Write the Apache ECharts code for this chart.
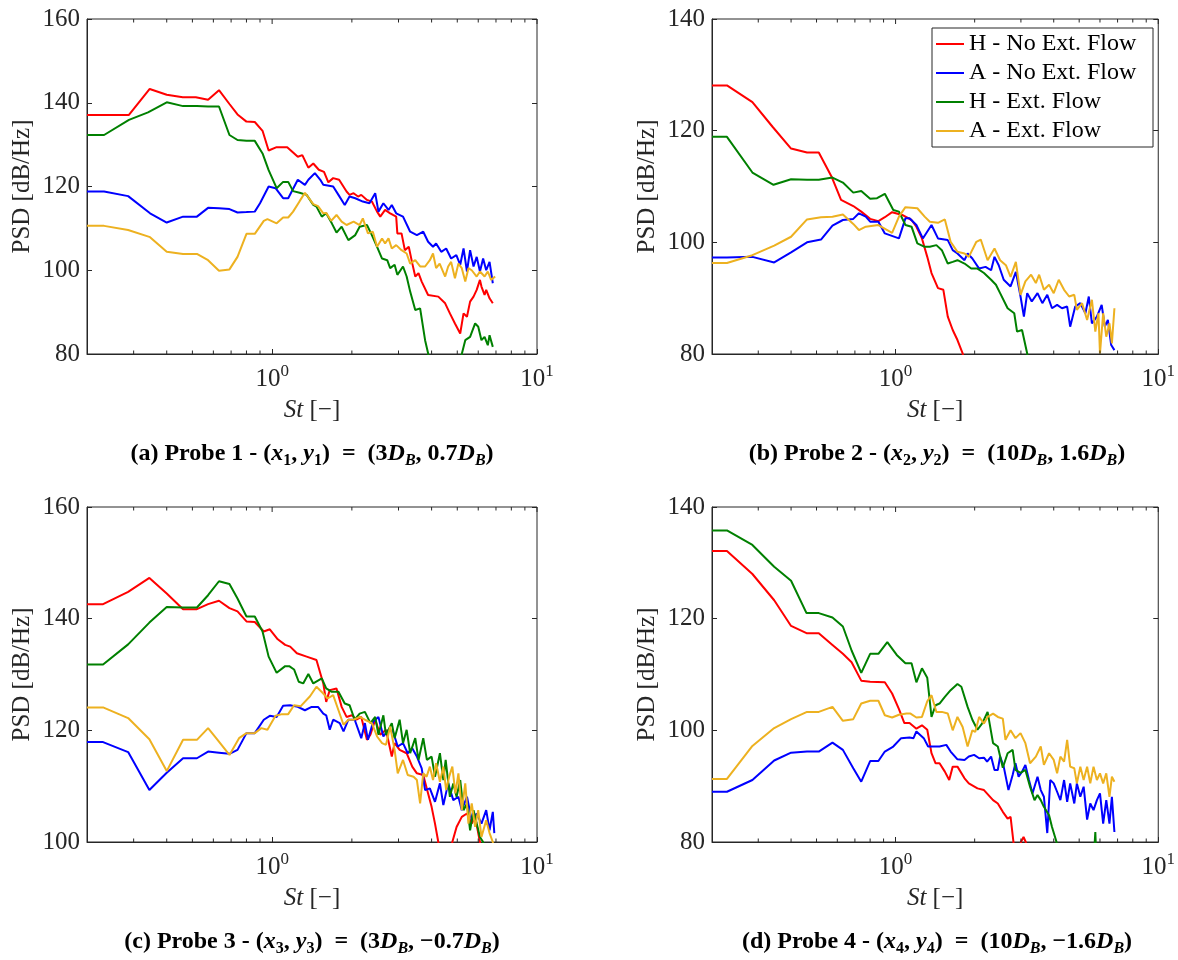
<!DOCTYPE html>
<html><head><meta charset="utf-8">
<script src="https://cdn.jsdelivr.net/npm/echarts@6/dist/echarts.min.js"></script>
<style>html,body{margin:0;padding:0;background:#fff}#c{width:1178px;height:960px}</style>
</head><body><div id="c"></div>
<script>
// ---------- DATA ----------
const seriesNames = ['H - No Ext. Flow', 'A - No Ext. Flow', 'H - Ext. Flow', 'A - Ext. Flow'];
const seriesColors = ['#ff0000', '#0000ff', '#008000', '#edb120'];
const xRange = [0.2, 10];
const yRanges = [[80, 160], [80, 140], [100, 160], [80, 140]];
const yTickStep = 20;
const xMinorTicks = [0.3, 0.4, 0.5, 0.6, 0.7, 0.8, 0.9, 2, 3, 4, 5, 6, 7, 8, 9];
const xMajorTicks = [1, 10];
const yAxisTitle = 'PSD [dB/Hz]';
const xAxisTitle = '{i|St} [−]';
const captions = [
  '{n|(a) Probe 1 - (}{i|x}{s|1}{n|, }{i|y}{s|1}{n|)  =  (3}{i|D}{si|B}{n|, 0.7}{i|D}{si|B}{n|)}',
  '{n|(b) Probe 2 - (}{i|x}{s|2}{n|, }{i|y}{s|2}{n|)  =  (10}{i|D}{si|B}{n|, 1.6}{i|D}{si|B}{n|)}',
  '{n|(c) Probe 3 - (}{i|x}{s|3}{n|, }{i|y}{s|3}{n|)  =  (3}{i|D}{si|B}{n|, −0.7}{i|D}{si|B}{n|)}',
  '{n|(d) Probe 4 - (}{i|x}{s|4}{n|, }{i|y}{s|4}{n|)  =  (10}{i|D}{si|B}{n|, −1.6}{i|D}{si|B}{n|)}'
];

// Probe 1 [St, PSD]
const p1_H_noExt = [[0.2,137.1],[0.23,137.1],[0.288,137.1],[0.345,143.3],[0.40,141.9],[0.46,141.3],[0.515,141.3],[0.573,140.7],[0.63,143.0],[0.69,139.7],[0.74,137.2],[0.80,135.5],[0.86,135.4],[0.92,133.3],[0.97,128.6],[1.04,129.4],[1.14,129.4],[1.25,127.1],[1.30,127.5],[1.37,124.5],[1.43,125.5],[1.50,124.0],[1.57,123.5],[1.63,121.0],[1.70,122.0],[1.79,121.6],[1.91,118.8],[1.96,118.0],[2.03,118.4],[2.11,117.6],[2.17,118.0],[2.28,116.8],[2.38,116.4],[2.49,114.0],[2.56,112.8],[2.67,114.4],[2.79,113.6],[2.86,113.2],[2.94,112.8],[2.97,108.8],[3.08,108.8],[3.17,104.8],[3.28,105.6],[3.38,101.7],[3.47,98.5],[3.57,99.3],[3.67,97.3],[3.88,94.1],[4.24,93.7],[4.50,92.1],[4.69,89.7],[4.90,87.3],[5.13,84.9],[5.28,89.7],[5.44,88.9],[5.59,92.5],[5.76,93.7],[5.92,95.3],[6.09,97.7],[6.17,96.1],[6.34,94.1],[6.43,95.3],[6.62,93.3],[6.81,92.1]];
const p1_A_noExt = [[0.2,118.8],[0.232,118.8],[0.286,117.7],[0.346,113.6],[0.40,111.4],[0.461,112.8],[0.52,112.8],[0.573,114.9],[0.63,114.8],[0.69,114.6],[0.74,113.8],[0.80,113.9],[0.86,114.0],[0.90,116.0],[0.97,120.0],[1.03,119.6],[1.10,117.2],[1.15,117.2],[1.25,121.6],[1.33,120.4],[1.37,121.6],[1.45,123.2],[1.52,121.6],[1.56,120.4],[1.70,120.0],[1.78,118.0],[1.88,115.6],[1.96,117.6],[2.06,117.2],[2.20,116.4],[2.33,116.0],[2.45,118.4],[2.52,114.0],[2.63,116.0],[2.75,114.4],[2.83,115.6],[2.94,113.6],[3.12,112.8],[3.32,109.2],[3.52,108.4],[3.72,109.2],[3.88,106.8],[4.05,105.6],[4.16,106.4],[4.35,104.4],[4.54,105.2],[4.74,102.8],[4.96,103.6],[5.13,101.3],[5.28,105.2],[5.44,99.7],[5.59,104.8],[5.76,100.9],[5.92,103.2],[6.09,99.7],[6.26,102.8],[6.43,100.0],[6.62,102.0],[6.81,96.9]];
const p1_H_ext = [[0.2,132.3],[0.232,132.3],[0.288,135.9],[0.34,137.7],[0.40,140.1],[0.461,139.2],[0.52,139.2],[0.573,139.1],[0.63,139.1],[0.69,132.3],[0.74,131.1],[0.80,130.9],[0.86,130.9],[0.92,127.9],[0.97,123.9],[1.04,119.6],[1.10,121.1],[1.15,121.1],[1.20,118.9],[1.27,118.5],[1.35,118.0],[1.43,115.6],[1.47,115.2],[1.54,112.8],[1.60,113.6],[1.68,111.2],[1.75,109.0],[1.83,110.4],[1.94,107.2],[2.06,108.4],[2.14,110.4],[2.28,110.8],[2.38,108.4],[2.49,105.6],[2.60,102.8],[2.72,102.4],[2.79,100.5],[2.90,101.3],[2.97,98.9],[3.12,100.9],[3.22,98.5],[3.32,94.9],[3.47,90.5],[3.62,90.9],[3.78,83.3],[3.88,80.2],[3.95,76],[4.0,'-'],[5.15,77],[5.2,80],[5.36,83.3],[5.59,84.1],[5.84,87.3],[6.0,86.5],[6.17,83.3],[6.34,84.1],[6.52,82.1],[6.62,84.5],[6.81,81.7]];
const p1_A_ext = [[0.2,110.6],[0.232,110.6],[0.286,109.6],[0.346,107.9],[0.40,104.4],[0.461,103.9],[0.52,103.9],[0.573,102.4],[0.63,99.9],[0.69,100.2],[0.74,103.2],[0.80,108.7],[0.86,108.7],[0.93,111.8],[0.96,112.2],[1.04,111.2],[1.10,112.6],[1.15,112.6],[1.20,114.0],[1.27,116.5],[1.33,118.5],[1.43,115.8],[1.49,115.3],[1.56,113.6],[1.60,113.7],[1.67,111.8],[1.75,113.2],[1.83,111.6],[1.91,110.8],[2.03,111.6],[2.14,110.8],[2.20,112.4],[2.30,108.8],[2.40,109.2],[2.49,105.6],[2.60,107.6],[2.67,106.4],[2.75,107.6],[2.83,105.2],[2.94,106.0],[3.08,104.8],[3.22,104.0],[3.32,101.6],[3.47,102.4],[3.62,100.9],[3.78,100.9],[3.94,102.4],[4.05,104.0],[4.16,100.5],[4.29,101.6],[4.50,98.5],[4.62,100.9],[4.74,102.0],[4.90,98.1],[5.05,101.6],[5.20,100.5],[5.36,97.3],[5.51,100.5],[5.67,100.0],[5.92,98.5],[6.09,99.7],[6.34,98.5],[6.52,99.7],[6.71,97.7],[6.95,98.5]];

// Probe 2
const p2_H_noExt = [[0.2,128.1],[0.228,128.1],[0.285,125.1],[0.34,120.7],[0.40,116.8],[0.46,116.1],[0.51,116.1],[0.57,111.8],[0.62,107.6],[0.69,106.5],[0.74,105.5],[0.80,104.2],[0.86,103.8],[0.91,104.5],[0.97,105.4],[1.06,104.9],[1.15,104.0],[1.20,102.8],[1.26,100.7],[1.32,97.4],[1.37,94.5],[1.45,91.8],[1.52,91.5],[1.58,86.7],[1.65,84.3],[1.72,82.5],[1.80,80.1],[1.85,77]];
const p2_A_noExt = [[0.2,97.3],[0.228,97.3],[0.285,97.4],[0.345,96.4],[0.40,98.2],[0.46,100.0],[0.52,100.5],[0.575,103.0],[0.63,104.0],[0.69,104.2],[0.725,105.2],[0.77,104.6],[0.80,103.7],[0.86,103.7],[0.91,101.6],[1.03,100.7],[1.09,104.3],[1.13,104.3],[1.20,103.1],[1.27,100.7],[1.37,103.1],[1.45,100.7],[1.58,100.4],[1.65,98.6],[1.72,98.0],[1.83,96.8],[1.88,98.0],[1.96,97.1],[2.08,95.3],[2.20,95.6],[2.31,95.0],[2.38,97.4],[2.47,95.9],[2.58,93.3],[2.74,92.1],[2.87,94.7],[2.99,90.3],[3.08,86.7],[3.17,90.9],[3.30,89.4],[3.47,90.9],[3.62,89.1],[3.78,90.6],[3.94,88.2],[4.12,88.8],[4.30,88.2],[4.50,88.5],[4.62,84.9],[4.83,88.5],[5.05,89.1],[5.28,87.3],[5.44,90.3],[5.59,85.5],[5.84,86.7],[6.09,88.8],[6.26,84.9],[6.43,86.1],[6.62,81.6],[6.81,80.7]];
const p2_H_ext = [[0.2,118.9],[0.228,118.9],[0.285,112.5],[0.343,110.3],[0.40,111.3],[0.46,111.2],[0.51,111.2],[0.575,111.6],[0.63,110.7],[0.69,108.9],[0.74,109.2],[0.80,107.8],[0.85,107.9],[0.91,108.7],[0.98,105.8],[1.03,105.5],[1.09,103.1],[1.15,102.8],[1.21,99.8],[1.29,99.2],[1.35,99.2],[1.43,99.5],[1.50,98.6],[1.58,96.2],[1.65,96.5],[1.72,96.8],[1.83,96.2],[1.94,95.3],[2.05,95.3],[2.17,94.5],[2.31,93.3],[2.41,92.4],[2.50,90.9],[2.67,88.2],[2.83,87.3],[2.90,84.0],[3.03,84.3],[3.17,80.1],[3.22,77]];
const p2_A_ext = [[0.2,96.3],[0.228,96.3],[0.285,97.7],[0.345,99.4],[0.40,101.0],[0.46,104.1],[0.52,104.5],[0.575,104.6],[0.63,105.0],[0.69,103.3],[0.725,102.2],[0.77,102.8],[0.86,103.1],[0.97,101.7],[1.03,104.6],[1.09,106.3],[1.21,106.1],[1.29,104.6],[1.35,103.7],[1.45,103.5],[1.54,104.1],[1.62,100.1],[1.72,98.3],[1.83,98.0],[1.90,97.4],[2.03,100.1],[2.11,100.5],[2.24,96.8],[2.38,98.9],[2.50,96.8],[2.63,95.9],[2.74,93.8],[2.87,96.5],[2.99,90.6],[3.12,93.0],[3.28,94.2],[3.42,92.7],[3.52,94.2],[3.67,91.5],[3.84,92.4],[4.0,90.9],[4.18,93.3],[4.38,91.5],[4.58,90.3],[4.79,90.6],[4.90,87.9],[5.13,89.1],[5.36,86.1],[5.59,89.7],[5.76,84.0],[5.92,87.3],[6.0,80.1],[6.17,87.3],[6.34,83.1],[6.52,85.5],[6.66,81.9],[6.81,88.2]];

// Probe 3
const p3_H_noExt = [[0.2,142.6],[0.23,142.6],[0.286,144.8],[0.344,147.3],[0.40,144.5],[0.461,141.7],[0.52,141.7],[0.573,142.6],[0.63,143.2],[0.69,141.9],[0.74,141.3],[0.80,139.5],[0.86,139.4],[0.93,137.7],[0.98,138.1],[1.05,136.3],[1.12,135.3],[1.17,135.0],[1.24,133.8],[1.35,133.2],[1.47,132.6],[1.56,128.4],[1.60,125.1],[1.65,127.2],[1.75,127.5],[1.83,124.2],[1.91,122.4],[2.0,122.7],[2.08,121.9],[2.17,122.4],[2.28,118.3],[2.35,119.2],[2.45,121.9],[2.56,119.2],[2.69,120.1],[2.83,115.3],[2.90,117.7],[3.03,116.5],[3.22,115.9],[3.38,113.5],[3.52,112.3],[3.72,112.0],[3.88,108.7],[4.0,106.3],[4.12,103.3],[4.24,100.0],[4.28,98],[4.3,'-'],[4.75,98],[4.79,100],[4.97,102.7],[5.20,104.5],[5.44,105.1],[5.67,103.3],[5.84,104.5],[6.09,100],[6.15,98]];
const p3_A_noExt = [[0.2,117.9],[0.23,117.9],[0.286,116.1],[0.344,109.3],[0.40,112.4],[0.461,115.0],[0.52,115.0],[0.573,116.2],[0.63,116.0],[0.69,115.8],[0.74,116.5],[0.80,119.5],[0.86,119.5],[0.93,121.9],[0.98,122.6],[1.04,122.4],[1.10,124.4],[1.17,124.5],[1.25,124.2],[1.33,123.6],[1.41,124.2],[1.49,124.2],[1.56,123.0],[1.60,122.7],[1.65,120.1],[1.70,121.9],[1.80,121.3],[1.86,119.8],[1.94,121.9],[2.05,121.9],[2.17,118.6],[2.24,121.3],[2.30,118.3],[2.41,121.6],[2.52,122.4],[2.63,118.9],[2.75,120.1],[2.86,119.8],[2.98,117.1],[3.12,117.7],[3.25,115.9],[3.38,116.8],[3.52,115.3],[3.67,113.2],[3.78,109.3],[3.94,109.6],[4.12,107.2],[4.30,110.5],[4.43,106.6],[4.62,110.5],[4.83,107.5],[5.05,108.1],[5.20,105.7],[5.44,108.1],[5.67,103.9],[5.92,105.1],[6.17,103.3],[6.43,105.7],[6.62,102.1],[6.81,105.4],[6.9,101.6]];
const p3_H_ext = [[0.2,131.8],[0.23,131.8],[0.286,135.4],[0.344,139.3],[0.40,142.1],[0.461,142.0],[0.52,142.0],[0.573,144.2],[0.63,146.7],[0.69,146.2],[0.74,143.6],[0.80,140.4],[0.86,140.4],[0.92,137.7],[0.97,133.2],[1.04,130.3],[1.12,131.5],[1.16,131.5],[1.21,130.9],[1.26,128.7],[1.31,128.4],[1.37,130.1],[1.43,128.4],[1.54,129.3],[1.60,127.5],[1.68,126.9],[1.78,126.9],[1.88,124.8],[1.96,124.5],[2.05,121.9],[2.14,123.0],[2.24,123.3],[2.35,121.3],[2.45,122.4],[2.52,119.2],[2.63,122.7],[2.69,119.2],[2.83,121.3],[2.90,118.6],[3.03,121.9],[3.12,117.7],[3.22,120.1],[3.32,115.9],[3.47,118.6],[3.57,114.7],[3.72,118.6],[3.84,114.7],[4.0,115.3],[4.12,111.7],[4.30,115.9],[4.43,111.1],[4.52,114.7],[4.69,108.1],[4.83,110.5],[4.97,108.1],[5.13,111.1],[5.28,105.7],[5.44,106.9],[5.59,102.1],[5.76,105.7],[5.92,103.3],[6.09,100.9],[6.26,100.0],[6.3,98]];
const p3_A_ext = [[0.2,124.1],[0.23,124.1],[0.286,122.2],[0.344,118.4],[0.40,112.7],[0.461,118.3],[0.52,118.3],[0.573,120.4],[0.62,118.4],[0.69,115.6],[0.75,118.6],[0.80,119.5],[0.86,119.5],[0.91,120.4],[0.96,120.1],[1.03,122.6],[1.09,122.9],[1.15,122.9],[1.21,124.5],[1.28,124.3],[1.39,126.1],[1.47,127.8],[1.56,126.6],[1.62,125.7],[1.70,126.3],[1.78,123.6],[1.86,121.0],[1.94,121.9],[2.03,121.9],[2.14,122.4],[2.24,121.9],[2.38,121.3],[2.49,118.9],[2.60,117.7],[2.69,117.4],[2.79,120.7],[2.90,116.5],[2.98,112.3],[3.12,114.7],[3.25,112.0],[3.42,111.7],[3.52,111.1],[3.62,106.9],[3.72,112.3],[3.83,111.7],[3.94,113.5],[4.05,111.1],[4.16,114.1],[4.30,110.8],[4.43,113.5],[4.54,109.3],[4.66,111.7],[4.79,113.5],[4.92,108.7],[5.05,112.3],[5.20,105.7],[5.36,110.5],[5.51,103.3],[5.67,106.9],[5.84,102.7],[6.0,105.7],[6.17,100.9],[6.43,103.9],[6.62,101.6],[6.81,100],[6.9,98]];

// Probe 4
const p4_H_noExt = [[0.2,132.1],[0.228,132.1],[0.285,128.0],[0.345,123.3],[0.40,118.7],[0.458,117.4],[0.51,117.4],[0.575,115.3],[0.63,113.7],[0.68,112.2],[0.74,108.9],[0.80,108.7],[0.91,108.6],[0.97,106.6],[1.03,103.8],[1.08,101.3],[1.13,101.3],[1.20,100.3],[1.26,100.9],[1.32,100.1],[1.37,95.9],[1.42,94.1],[1.47,94.1],[1.54,92.6],[1.60,91.1],[1.65,93.5],[1.72,93.5],[1.83,91.4],[1.90,90.5],[2.05,89.6],[2.17,89.3],[2.35,87.5],[2.45,86.9],[2.56,85.4],[2.67,84.2],[2.74,84.5],[2.81,80],[2.83,78],[2.9,'-'],[2.98,78],[3.0,80],[3.07,80.9],[3.13,80],[3.15,78]];
const p4_A_noExt = [[0.2,89.0],[0.228,89.0],[0.285,91.1],[0.345,94.6],[0.40,96.0],[0.46,96.2],[0.51,96.2],[0.575,97.8],[0.63,96.5],[0.69,93.2],[0.74,90.8],[0.80,94.5],[0.86,94.5],[0.91,96.2],[0.98,97.1],[1.05,98.6],[1.13,98.7],[1.17,98.6],[1.20,99.8],[1.28,98.6],[1.33,97.1],[1.47,97.1],[1.56,97.4],[1.62,96.2],[1.72,94.8],[1.83,94.7],[1.90,95.3],[1.99,95.6],[2.08,95.0],[2.17,95.1],[2.23,94.4],[2.31,95.3],[2.38,92.9],[2.45,92.9],[2.50,95.3],[2.58,93.5],[2.69,89.3],[2.79,92.0],[2.86,94.1],[2.94,91.7],[3.03,92.6],[3.12,93.8],[3.22,91.1],[3.32,88.7],[3.47,91.7],[3.57,89.3],[3.67,88.1],[3.78,81.6],[3.88,91.1],[4.0,90.5],[4.12,89.0],[4.24,87.5],[4.38,91.1],[4.50,87.2],[4.62,90.5],[4.79,86.9],[4.90,90.5],[5.05,88.1],[5.20,89.9],[5.36,84.0],[5.51,86.9],[5.67,85.7],[5.84,87.5],[6.0,88.7],[6.17,83.3],[6.34,87.5],[6.52,83.3],[6.66,88.1],[6.81,81.8]];
const p4_H_ext = [[0.2,135.8],[0.228,135.8],[0.285,133.2],[0.345,129.3],[0.40,126.8],[0.458,121.0],[0.51,121.0],[0.575,120.2],[0.63,118.6],[0.68,114.3],[0.74,110.3],[0.80,113.7],[0.86,113.7],[0.93,115.8],[1.01,113.5],[1.09,112.0],[1.15,112.0],[1.20,108.6],[1.26,111.1],[1.32,109.4],[1.37,102.4],[1.42,104.5],[1.47,104.8],[1.54,106.0],[1.62,107.2],[1.72,108.3],[1.78,107.8],[1.88,104.2],[1.96,101.9],[2.05,100.1],[2.14,101.3],[2.24,103.3],[2.35,97.7],[2.45,97.1],[2.56,93.3],[2.67,95.9],[2.79,96.5],[2.86,92.9],[2.99,92.4],[3.12,92.9],[3.25,89.9],[3.38,87.5],[3.47,88.4],[3.57,87.5],[3.67,86.3],[3.84,84.8],[3.94,82.7],[4.10,80.0],[4.15,77],[4.2,'-'],[5.70,78],[5.76,81.8],[5.80,78]];
const p4_A_ext = [[0.2,91.3],[0.228,91.3],[0.285,97.2],[0.345,100.4],[0.40,102.0],[0.46,103.3],[0.51,103.3],[0.575,104.2],[0.63,101.7],[0.69,102.0],[0.74,104.8],[0.80,105.3],[0.86,105.3],[0.91,102.7],[0.97,102.3],[1.03,102.8],[1.10,103.0],[1.14,103.0],[1.20,102.3],[1.26,102.4],[1.32,105.2],[1.37,106.3],[1.43,103.3],[1.50,103.3],[1.58,103.0],[1.65,100.0],[1.72,102.4],[1.80,100.6],[1.88,97.1],[1.96,100.0],[2.01,99.7],[2.08,102.4],[2.17,101.2],[2.24,102.4],[2.35,103.0],[2.45,102.4],[2.56,102.1],[2.62,98.3],[2.74,100.0],[2.86,98.6],[2.99,99.5],[3.12,97.7],[3.25,94.1],[3.42,95.3],[3.57,97.1],[3.67,93.8],[3.84,95.9],[4.0,94.7],[4.12,92.3],[4.24,95.3],[4.38,94.4],[4.50,98.3],[4.62,93.5],[4.79,93.2],[4.90,90.5],[5.05,93.5],[5.20,91.1],[5.36,93.5],[5.51,90.5],[5.67,93.5],[5.84,91.1],[6.0,92.3],[6.17,90.5],[6.34,92.3],[6.52,88.1],[6.66,91.7],[6.81,90.8]];

const panelData = [
  [p1_H_noExt, p1_A_noExt, p1_H_ext, p1_A_ext],
  [p2_H_noExt, p2_A_noExt, p2_H_ext, p2_A_ext],
  [p3_H_noExt, p3_A_noExt, p3_H_ext, p3_A_ext],
  [p4_H_noExt, p4_A_noExt, p4_H_ext, p4_A_ext]
];

// ---------- LAYOUT / STYLE ----------
const FONT = "'Liberation Serif', 'DejaVu Serif', serif";
const AX = '#262626';
const grids = [
  {left: 87, top: 19}, {left: 712, top: 19},
  {left: 87, top: 507}, {left: 712, top: 507}
];
const GW = 450, GH = 335;

const chart = echarts.init(document.getElementById('c'), null, {renderer: 'canvas'});

function isPow10(v) {
  const e = Math.log10(v);
  return Math.abs(e - Math.round(e)) < 1e-6 ? Math.round(e) : null;
}

const option = {
  animation: false,
  backgroundColor: '#ffffff',
  grid: grids.map(g => ({left: g.left, top: g.top, width: GW, height: GH, show: true,
    borderColor: AX, borderWidth: 1, backgroundColor: 'transparent'})),
  xAxis: grids.map((g, i) => ({
    type: 'log', logBase: 10, gridIndex: i, min: xRange[0], max: xRange[1],
    axisLine: {show: true, lineStyle: {color: AX, width: 1}},
    axisTick: {show: true, inside: true, length: 5, lineStyle: {color: AX, width: 1}},
    splitLine: {show: false},
    axisLabel: {
      margin: 9, color: AX, fontFamily: FONT, fontSize: 25,
      formatter: v => { const e = isPow10(v); return (e === null || v < xRange[0] * 1.01) ? '' : '{b|10}{s|' + e + '}'; },
      rich: {b: {fontFamily: FONT, fontSize: 25, color: AX}, s: {fontFamily: FONT, fontSize: 17, color: AX, padding: [0, 0, 16, 0]}}
    },
    name: xAxisTitle, nameLocation: 'middle', nameGap: 44,
    nameTextStyle: {fontFamily: FONT, fontSize: 25, color: AX,
      rich: {i: {fontFamily: FONT, fontSize: 25, fontStyle: 'italic', color: AX}}}
  })),
  yAxis: [].concat(...grids.map((g, i) => [
    {
      type: 'value', gridIndex: i, min: yRanges[i][0], max: yRanges[i][1], interval: yTickStep,
      axisLine: {show: true, lineStyle: {color: AX, width: 1}},
      axisTick: {show: true, inside: true, length: 5, lineStyle: {color: AX, width: 1}},
      splitLine: {show: false},
      axisLabel: {margin: 7, color: AX, fontFamily: FONT, fontSize: 25},
      name: yAxisTitle, nameLocation: 'middle', nameGap: 52, nameRotate: 90,
      nameTextStyle: {fontFamily: FONT, fontSize: 25, color: AX}
    },
    {
      type: 'value', gridIndex: i, position: 'right', min: yRanges[i][0], max: yRanges[i][1], interval: yTickStep,
      axisLine: {show: false},
      axisTick: {show: true, inside: true, length: 5, lineStyle: {color: AX, width: 1}},
      splitLine: {show: false}, axisLabel: {show: false}
    }
  ])),
  legend: {
    data: seriesNames, orient: 'vertical', left: 932, top: 28, icon: 'rect',
    itemWidth: 28, itemHeight: 2, itemGap: 3, itemTextGap: 4, padding: [3, 4, 3, 4],
    borderColor: AX, borderWidth: 1, backgroundColor: '#ffffff', selectedMode: false,
    textStyle: {fontFamily: FONT, fontSize: 24, color: '#000', lineHeight: 26, width: 180}
  },
  graphic: captions.map((c, i) => ({
    type: 'text', x: grids[i].left + GW / 2, y: grids[i].top + GH + 100,
    style: {
      text: c, align: 'center', verticalAlign: 'middle', textAlign: 'center', textVerticalAlign: 'middle',
      rich: {
        n: {fontFamily: FONT, fontWeight: 'bold', fontSize: 24, color: '#000'},
        i: {fontFamily: FONT, fontWeight: 'bold', fontStyle: 'italic', fontSize: 24, color: '#000'},
        s: {fontFamily: FONT, fontWeight: 'bold', fontSize: 16, color: '#000', padding: [13, 0, 0, 0]},
        si: {fontFamily: FONT, fontWeight: 'bold', fontStyle: 'italic', fontSize: 16, color: '#000', padding: [13, 0, 0, 0]}
      }
    }
  })),
  series: []
};

panelData.forEach((arrs, i) => {
  arrs.forEach((d, k) => {
    option.series.push({
      type: 'line', name: seriesNames[k], xAxisIndex: i, yAxisIndex: 2 * i,
      data: d, symbol: 'none', showSymbol: false, connectNulls: false, clip: true,
      lineStyle: {color: seriesColors[k], width: 2}, itemStyle: {color: seriesColors[k]},
      z: 2 + k
    });
  });
  // minor ticks on bottom & top, major ticks on top
  const tickData = xMinorTicks.map(v => [v, yRanges[i][0], 0]).concat(xMajorTicks.map(v => [v, yRanges[i][0], 1]));
  option.series.push({
    type: 'custom', xAxisIndex: i, yAxisIndex: 2 * i, silent: true, z: 10,
    data: tickData,
    renderItem: (params, api) => {
      const cs = params.coordSys;
      const x = api.coord([api.value(0), yRanges[i][0]])[0];
      const major = api.value(2) === 1;
      const L = major ? 5 : 3.5;
      const st = {stroke: AX, lineWidth: 1};
      const ch = [{type: 'line', shape: {x1: x, y1: cs.y, x2: x, y2: cs.y + L}, style: st}];
      if (!major) ch.push({type: 'line', shape: {x1: x, y1: cs.y + cs.height, x2: x, y2: cs.y + cs.height - L}, style: st});
      return {type: 'group', children: ch};
    }
  });
});

chart.setOption(option);
</script></body></html>
